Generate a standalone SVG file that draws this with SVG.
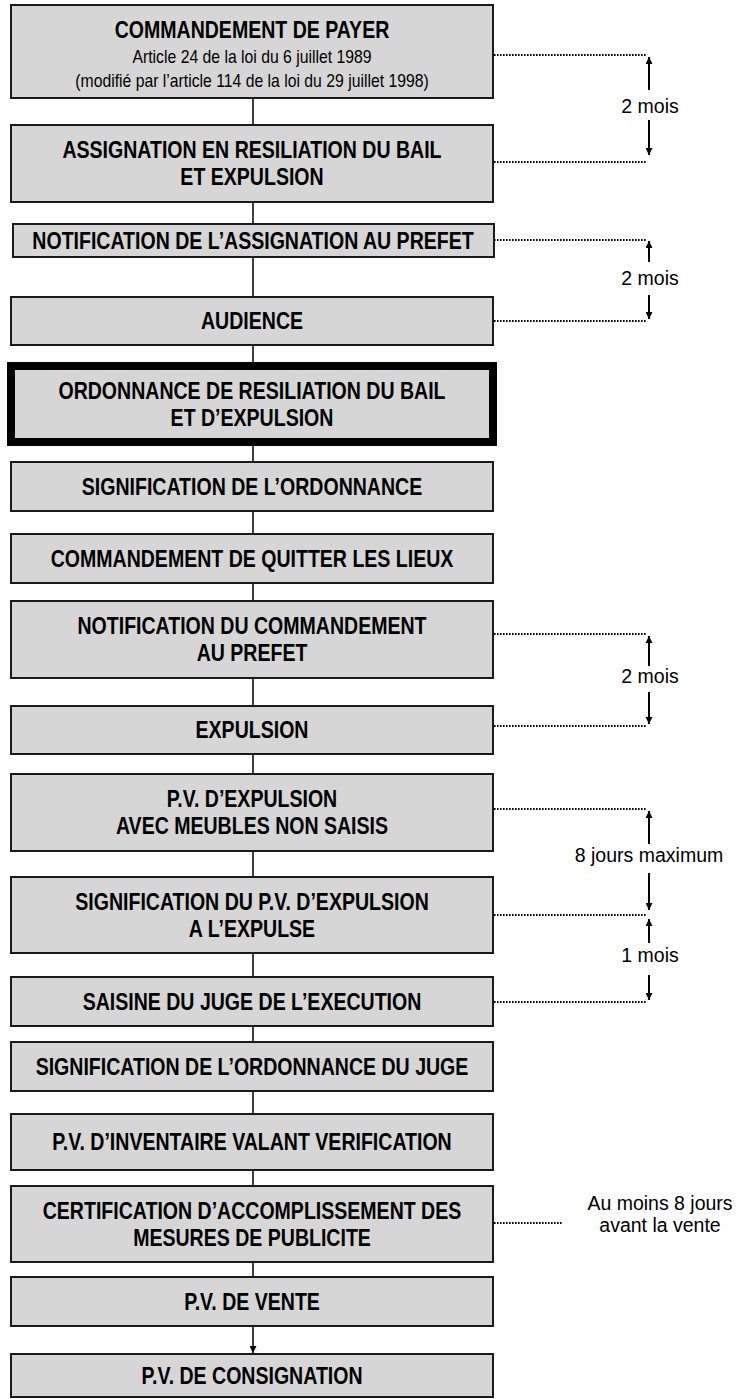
<svg xmlns="http://www.w3.org/2000/svg" width="736" height="1399" viewBox="0 0 736 1399">
<style>
.box{fill:#d6d6d6;stroke:#1a1a1a;stroke-width:2}
.thick{fill:#d6d6d6;stroke:#000;stroke-width:8}
.t{font-family:"Liberation Sans",Arial,sans-serif;font-weight:bold;font-size:23px;fill:#000;text-anchor:middle}
.s{font-family:"Liberation Sans",Arial,sans-serif;font-size:19px;fill:#000;text-anchor:middle}
.a{font-family:"Liberation Sans",Arial,sans-serif;font-size:19.5px;fill:#000;text-anchor:middle}
.conn{stroke:#000;stroke-width:1.5;fill:none}
.arr{stroke:#000;stroke-width:2;fill:none}
.dot{stroke:#000;stroke-width:1.8;stroke-dasharray:1.6 1.4;fill:none}
</style>
<defs>
<marker id="ah" viewBox="0 0 10 10" refX="10" refY="5" markerWidth="7" markerHeight="7" orient="auto" markerUnits="userSpaceOnUse">
<path d="M0,0 L10,5 L0,10 z" fill="#000"/>
</marker>
</defs>
<g id="connectors">
<line class="conn" x1="253" y1="98" x2="253" y2="125"/>
<line class="conn" x1="253" y1="202" x2="253" y2="224"/>
<line class="conn" x1="253" y1="257" x2="253" y2="297"/>
<line class="conn" x1="253" y1="345" x2="253" y2="362"/>
<line class="conn" x1="253" y1="446" x2="253" y2="462"/>
<line class="conn" x1="253" y1="511" x2="253" y2="534"/>
<line class="conn" x1="253" y1="583" x2="253" y2="601"/>
<line class="conn" x1="253" y1="678" x2="253" y2="706"/>
<line class="conn" x1="253" y1="754" x2="253" y2="774"/>
<line class="conn" x1="253" y1="851" x2="253" y2="877"/>
<line class="conn" x1="253" y1="953" x2="253" y2="977"/>
<line class="conn" x1="253" y1="1026" x2="253" y2="1042"/>
<line class="conn" x1="253" y1="1091" x2="253" y2="1114"/>
<line class="conn" x1="253" y1="1170" x2="253" y2="1186"/>
<line class="conn" x1="253" y1="1262" x2="253" y2="1277"/>
<line class="conn" x1="253" y1="1326" x2="253" y2="1353" marker-end="url(#ah)"/>
</g>
<g id="delays">
<line class="dot" x1="494" y1="55" x2="647" y2="55"/>
<line class="dot" x1="494" y1="162" x2="647" y2="162"/>
<line class="arr" x1="649" y1="90" x2="649" y2="57" marker-end="url(#ah)"/>
<line class="arr" x1="649" y1="120" x2="649" y2="155" marker-end="url(#ah)"/>
<text class="a" x="650" y="113">2 mois</text>

<line class="dot" x1="494" y1="240" x2="647" y2="240"/>
<line class="dot" x1="494" y1="321" x2="647" y2="321"/>
<line class="arr" x1="649" y1="262" x2="649" y2="241" marker-end="url(#ah)"/>
<line class="arr" x1="649" y1="295" x2="649" y2="319" marker-end="url(#ah)"/>
<text class="a" x="650" y="285">2 mois</text>

<line class="dot" x1="494" y1="634" x2="647" y2="634"/>
<line class="dot" x1="494" y1="726" x2="647" y2="726"/>
<line class="arr" x1="649" y1="666" x2="649" y2="636" marker-end="url(#ah)"/>
<line class="arr" x1="649" y1="692" x2="649" y2="724" marker-end="url(#ah)"/>
<text class="a" x="650" y="683">2 mois</text>

<line class="dot" x1="494" y1="809" x2="647" y2="809"/>
<line class="dot" x1="494" y1="915" x2="647" y2="915"/>
<line class="arr" x1="649" y1="844" x2="649" y2="811" marker-end="url(#ah)"/>
<line class="arr" x1="649" y1="873" x2="649" y2="910" marker-end="url(#ah)"/>
<text class="a" x="649" y="862">8 jours maximum</text>

<line class="dot" x1="494" y1="1002" x2="647" y2="1002"/>
<line class="arr" x1="649" y1="943" x2="649" y2="919" marker-end="url(#ah)"/>
<line class="arr" x1="649" y1="975" x2="649" y2="1000" marker-end="url(#ah)"/>
<text class="a" x="650" y="962">1 mois</text>

<line class="dot" x1="494" y1="1223" x2="563" y2="1223"/>
<text class="a" x="660" y="1210">Au moins 8 jours</text>
<text class="a" x="660" y="1232">avant la vente</text>
</g>
<g id="n1"><rect class="box" x="11" y="5" width="482" height="93"/>
<text class="t" transform="translate(252 38) scale(0.85 1)">COMMANDEMENT DE PAYER</text>
<text class="s" transform="translate(252 63) scale(0.83 1)">Article 24 de la loi du 6 juillet 1989</text>
<text class="s" transform="translate(252 87) scale(0.83 1)">(modifié par l’article 114 de la loi du 29 juillet 1998)</text></g>
<g id="n2"><rect class="box" x="11" y="125" width="482" height="77"/>
<text class="t" transform="translate(252 158) scale(0.85 1)">ASSIGNATION EN RESILIATION DU BAIL</text>
<text class="t" transform="translate(252 185) scale(0.85 1)">ET EXPULSION</text></g>
<g id="n3"><rect class="box" x="13" y="224" width="481" height="33"/>
<text class="t" transform="translate(253 249) scale(0.85 1)">NOTIFICATION DE L’ASSIGNATION AU PREFET</text></g>
<g id="n4"><rect class="box" x="11" y="297" width="482" height="48"/>
<text class="t" transform="translate(252 329) scale(0.85 1)">AUDIENCE</text></g>
<g id="n5"><rect class="thick" x="11" y="366" width="482" height="76"/>
<text class="t" transform="translate(252 399) scale(0.85 1)">ORDONNANCE DE RESILIATION DU BAIL</text>
<text class="t" transform="translate(252 426) scale(0.85 1)">ET D’EXPULSION</text></g>
<g id="n6"><rect class="box" x="11" y="462" width="482" height="49"/>
<text class="t" transform="translate(252 495) scale(0.85 1)">SIGNIFICATION DE L’ORDONNANCE</text></g>
<g id="n7"><rect class="box" x="11" y="534" width="482" height="49"/>
<text class="t" transform="translate(252 567) scale(0.85 1)">COMMANDEMENT DE QUITTER LES LIEUX</text></g>
<g id="n8"><rect class="box" x="11" y="601" width="482" height="77"/>
<text class="t" transform="translate(252 634) scale(0.85 1)">NOTIFICATION DU COMMANDEMENT</text>
<text class="t" transform="translate(252 661) scale(0.85 1)">AU PREFET</text></g>
<g id="n9"><rect class="box" x="11" y="706" width="482" height="48"/>
<text class="t" transform="translate(252 738) scale(0.85 1)">EXPULSION</text></g>
<g id="n10"><rect class="box" x="11" y="774" width="482" height="77"/>
<text class="t" transform="translate(252 807) scale(0.85 1)">P.V. D’EXPULSION</text>
<text class="t" transform="translate(252 834) scale(0.85 1)">AVEC MEUBLES NON SAISIS</text></g>
<g id="n11"><rect class="box" x="11" y="877" width="482" height="76"/>
<text class="t" transform="translate(252 910) scale(0.85 1)">SIGNIFICATION DU P.V. D’EXPULSION</text>
<text class="t" transform="translate(252 937) scale(0.85 1)">A L’EXPULSE</text></g>
<g id="n12"><rect class="box" x="11" y="977" width="482" height="49"/>
<text class="t" transform="translate(252 1010) scale(0.85 1)">SAISINE DU JUGE DE L’EXECUTION</text></g>
<g id="n13"><rect class="box" x="11" y="1042" width="482" height="49"/>
<text class="t" transform="translate(252 1075) scale(0.85 1)">SIGNIFICATION DE L’ORDONNANCE DU JUGE</text></g>
<g id="n14"><rect class="box" x="11" y="1114" width="482" height="56"/>
<text class="t" transform="translate(252 1150) scale(0.85 1)">P.V. D’INVENTAIRE VALANT VERIFICATION</text></g>
<g id="n15"><rect class="box" x="11" y="1186" width="482" height="76"/>
<text class="t" transform="translate(252 1219) scale(0.85 1)">CERTIFICATION D’ACCOMPLISSEMENT DES</text>
<text class="t" transform="translate(252 1246) scale(0.85 1)">MESURES DE PUBLICITE</text></g>
<g id="n16"><rect class="box" x="11" y="1277" width="482" height="49"/>
<text class="t" transform="translate(252 1310) scale(0.85 1)">P.V. DE VENTE</text></g>
<g id="n17"><rect class="box" x="11" y="1354" width="482" height="43"/>
<text class="t" transform="translate(252 1384) scale(0.85 1)">P.V. DE CONSIGNATION</text></g>
</svg>
